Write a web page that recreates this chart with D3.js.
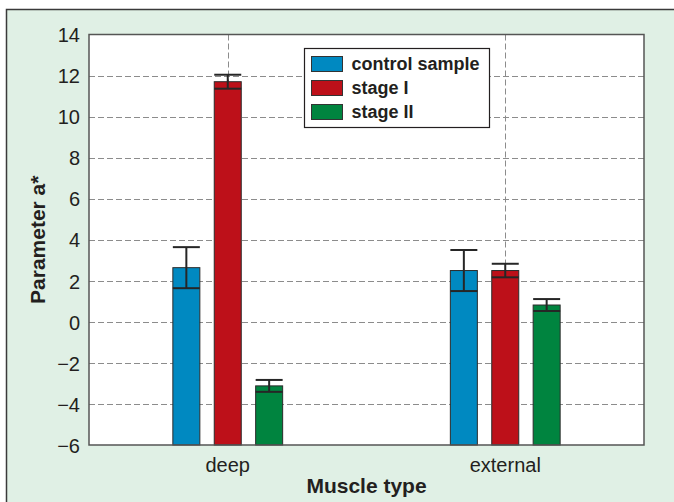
<!DOCTYPE html>
<html>
<head>
<meta charset="utf-8">
<script src="https://cdn.jsdelivr.net/npm/d3@7"></script>
<style>
  body { margin: 0; background: #fff; }
  svg { display: block; font-family: "Liberation Sans", Arial, sans-serif; }
</style>
</head>
<body>
<svg id="chart" width="674" height="502"></svg>
<script>
// data
var CATEGORIES = ["deep", "external"];
var SERIES = ["control sample", "stage I", "stage II"];
var COLORS = ["#0089c1", "#bd1019", "#00843f"];
var MEANS = [
  [2.64, 11.70, -3.12],  // deep
  [2.50, 2.50, 0.82]     // external
];
var ERRORS = [
  [1.0, 0.34, 0.29],
  [1.0, 0.33, 0.29]
];
var Y_TICKS = [-6, -4, -2, 0, 2, 4, 6, 8, 10, 12, 14];

// layout
var W = 674, H = 502;
var PLOT = { left: 89, right: 644, top: 34.5, bottom: 445 };
var BAR_W = 27;
var BAR_STEP = 41.4;

var svg = d3.select("#chart");

// outer panel
svg.append("rect")
  .attr("x", 6.5).attr("y", 9.5)
  .attr("width", W).attr("height", H)
  .attr("fill", "#e0f0e5")
  .attr("stroke", "#3a3a3a")
  .attr("stroke-width", 1.5);

var x = d3.scaleBand()
  .domain(CATEGORIES)
  .range([PLOT.left, PLOT.right])
  .paddingInner(0).paddingOuter(0);

var y = d3.scaleLinear()
  .domain([-6, 14])
  .range([PLOT.bottom, PLOT.top]);

function cx(cat) { return x(cat) + x.bandwidth() / 2; }

// plot background
svg.append("rect")
  .attr("x", PLOT.left).attr("y", PLOT.top)
  .attr("width", PLOT.right - PLOT.left)
  .attr("height", PLOT.bottom - PLOT.top)
  .attr("fill", "#fff");

// grid
var grid = svg.append("g").attr("class", "grid")
  .attr("stroke", "#8c8c8c")
  .attr("stroke-width", 1)
  .attr("stroke-dasharray", "6,3");

grid.selectAll(".hgrid")
  .data(Y_TICKS.filter(function (t) { return t > -6 && t < 14; }))
  .enter().append("line")
  .attr("x1", PLOT.left).attr("x2", PLOT.right)
  .attr("y1", function (d) { return Math.round(y(d)) + 0.5; })
  .attr("y2", function (d) { return Math.round(y(d)) + 0.5; });

grid.selectAll(".vgrid")
  .data(CATEGORIES)
  .enter().append("line")
  .attr("x1", function (d) { return Math.round(cx(d)) + 0.5; })
  .attr("x2", function (d) { return Math.round(cx(d)) + 0.5; })
  .attr("y1", PLOT.top).attr("y2", PLOT.bottom);

// bars
var rows = [];
CATEGORIES.forEach(function (cat, i) {
  SERIES.forEach(function (s, j) {
    rows.push({ cat: cat, j: j, v: MEANS[i][j], e: ERRORS[i][j] });
  });
});

function barX(d) { return cx(d.cat) + (d.j - 1) * BAR_STEP; }

svg.append("g").selectAll("rect")
  .data(rows)
  .enter().append("rect")
  .attr("x", function (d) { return barX(d) - BAR_W / 2; })
  .attr("y", function (d) { return y(d.v); })
  .attr("width", BAR_W)
  .attr("height", function (d) { return y(-6) - y(d.v); })
  .attr("fill", function (d) { return COLORS[d.j]; })
  .attr("stroke", "#2b2b2b")
  .attr("stroke-width", 1);

// error bars
var eb = svg.append("g")
  .attr("stroke", "#262626")
  .attr("stroke-width", 2);

eb.selectAll(".stem")
  .data(rows)
  .enter().append("line")
  .attr("x1", barX).attr("x2", barX)
  .attr("y1", function (d) { return y(d.v + d.e); })
  .attr("y2", function (d) { return y(d.v - d.e); });

eb.selectAll(".capTop")
  .data(rows)
  .enter().append("line")
  .attr("x1", function (d) { return barX(d) - BAR_W / 2; })
  .attr("x2", function (d) { return barX(d) + BAR_W / 2; })
  .attr("y1", function (d) { return y(d.v + d.e); })
  .attr("y2", function (d) { return y(d.v + d.e); });

eb.selectAll(".capBot")
  .data(rows)
  .enter().append("line")
  .attr("x1", function (d) { return barX(d) - BAR_W / 2; })
  .attr("x2", function (d) { return barX(d) + BAR_W / 2; })
  .attr("y1", function (d) { return y(d.v - d.e); })
  .attr("y2", function (d) { return y(d.v - d.e); });

// plot frame
svg.append("rect")
  .attr("x", PLOT.left).attr("y", PLOT.top)
  .attr("width", PLOT.right - PLOT.left)
  .attr("height", PLOT.bottom - PLOT.top)
  .attr("fill", "none")
  .attr("stroke", "#555")
  .attr("stroke-width", 1.5);

// y axis
var yAxis = svg.append("g")
  .attr("transform", "translate(" + PLOT.left + ",0)")
  .call(d3.axisLeft(y).tickValues(Y_TICKS).tickSize(0).tickPadding(9)
    .tickFormat(function (d) { return d < 0 ? "\u2212" + Math.abs(d) : d; }));
yAxis.select(".domain").remove();
yAxis.selectAll("text")
  .attr("fill", "#231f20")
  .style("font-size", "20px")
  .attr("dy", "0.36em");

// x axis
var xAxis = svg.append("g")
  .attr("transform", "translate(0," + PLOT.bottom + ")")
  .call(d3.axisBottom(x).tickSize(0));
xAxis.select(".domain").remove();
xAxis.selectAll("text")
  .attr("y", 27)
  .attr("dy", 0)
  .attr("fill", "#231f20")
  .style("font-size", "20px");

// axis titles
svg.append("text")
  .attr("x", (PLOT.left + PLOT.right) / 2)
  .attr("y", 493)
  .attr("text-anchor", "middle")
  .attr("font-weight", "bold")
  .attr("font-size", 21)
  .attr("fill", "#231f20")
  .text("Muscle type");

svg.append("text")
  .attr("transform", "translate(45," + (PLOT.top + PLOT.bottom) / 2 + ") rotate(-90)")
  .attr("text-anchor", "middle")
  .attr("font-weight", "bold")
  .attr("font-size", 21)
  .attr("fill", "#231f20")
  .text("Parameter a*");

// legend
var legend = svg.append("g").attr("transform", "translate(304.5,48.5)");
legend.append("rect")
  .attr("width", 185).attr("height", 79)
  .attr("fill", "#fff")
  .attr("stroke", "#231f20")
  .attr("stroke-width", 1.2);

var item = legend.selectAll(".item")
  .data(SERIES)
  .enter().append("g")
  .attr("transform", function (d, i) { return "translate(7," + (8 + i * 24) + ")"; });

item.append("rect")
  .attr("width", 31).attr("height", 15)
  .attr("fill", function (d, i) { return COLORS[i]; })
  .attr("stroke", "#333")
  .attr("stroke-width", 1);

item.append("text")
  .attr("x", 40).attr("y", 7.5)
  .attr("dy", "0.36em")
  .attr("font-weight", "bold")
  .attr("font-size", 18)
  .attr("fill", "#231f20")
  .text(function (d) { return d; });
</script>
</body>
</html>
